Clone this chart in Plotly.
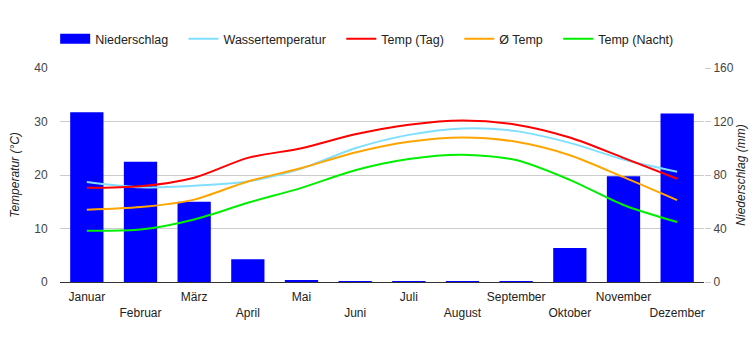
import plotly.graph_objects as go

months = ["Januar", "Februar", "März", "April", "Mai", "Juni", "Juli",
          "August", "September", "Oktober", "November", "Dezember"]
niederschlag = [127, 90, 60, 17, 1.5, 0.3, 0.3, 0.3, 0.3, 25.5, 79, 126]
wasser = [18.7, 17.7, 18.0, 18.8, 21.2, 25.0, 27.5, 28.7, 28.2, 26.0, 22.9, 20.6]
temp_tag = [17.6, 17.9, 19.5, 23.2, 25.0, 27.6, 29.4, 30.2, 29.4, 27.0, 23.2, 19.3]
temp_avg = [13.5, 14.0, 15.4, 18.8, 21.3, 24.2, 26.2, 27.0, 26.2, 23.7, 19.6, 15.3]
temp_nacht = [9.6, 9.8, 11.7, 14.8, 17.6, 20.9, 23.0, 23.8, 22.8, 19.1, 14.4, 11.2]

ticktext = [m if i % 2 == 0 else "<br>" + m for i, m in enumerate(months)]
pad = "\u00a0" * 3

fig = go.Figure()
fig.add_trace(go.Bar(x=months, y=niederschlag, name="Niederschlag",
                     marker=dict(color="#0000FF", line=dict(width=0)), yaxis="y",
                     showlegend=False))
# legend entry for bars (thick swatch)
fig.add_trace(go.Scatter(x=[None], y=[None], name="Niederschlag" + pad, mode="lines",
                         line=dict(color="#0000FF", width=13), yaxis="y"))
line_specs = [("Wassertemperatur", wasser, "#80DFFF"),
              ("Temp (Tag)", temp_tag, "#FF0000"),
              ("Ø Temp", temp_avg, "#FFA500"),
              ("Temp (Nacht)", temp_nacht, "#00EE00")]
for name, vals, col in line_specs:
    fig.add_trace(go.Scatter(x=months, y=vals, name=name + pad, mode="lines",
                             line=dict(color=col, width=2, shape="spline", smoothing=0.8),
                             yaxis="y2"))

fig.update_layout(
    width=750, height=350,
    margin=dict(l=60, r=46, t=68, b=68, autoexpand=False),
    paper_bgcolor="white", plot_bgcolor="white",
    font=dict(family="Liberation Sans, Arial", size=12, color="#222"),
    bargap=0.38,
    showlegend=True,
    legend=dict(orientation="h", x=-0.0075, xanchor="left", y=1.135, yanchor="middle",
                font=dict(size=12.5, color="#222"), traceorder="normal",
                itemwidth=30),
    xaxis=dict(tickmode="array", tickvals=months, ticktext=ticktext, tickangle=0,
               showgrid=False, showline=True, linecolor="#333", linewidth=1,
               ticks="outside", ticklen=4, tickcolor="rgba(0,0,0,0)", automargin=False,
               tickfont=dict(size=12, color="#222"), fixedrange=True),
    yaxis=dict(side="right", range=[0, 160], tickvals=[0, 40, 80, 120, 160],
               showgrid=True, gridcolor="#CCCCCC", zeroline=False, automargin=False,
               ticks="outside", ticklen=6, tickcolor="#CCCCCC",
               tickfont=dict(size=12, color="#444"),
               title=dict(text="<i>Niederschlag (mm)</i>", font=dict(size=12, color="#222"), standoff=2)),
    yaxis2=dict(side="left", overlaying="y", range=[0, 40], tickvals=[0, 10, 20, 30, 40],
                showgrid=False, zeroline=False, ticks="outside", ticklen=9, automargin=False,
                tickcolor="rgba(0,0,0,0)",
                tickfont=dict(size=12, color="#444"),
                title=dict(text="<i>Temperatur (°C)</i>", font=dict(size=12, color="#222"), standoff=12)),
)
fig.write_html("out.html")
